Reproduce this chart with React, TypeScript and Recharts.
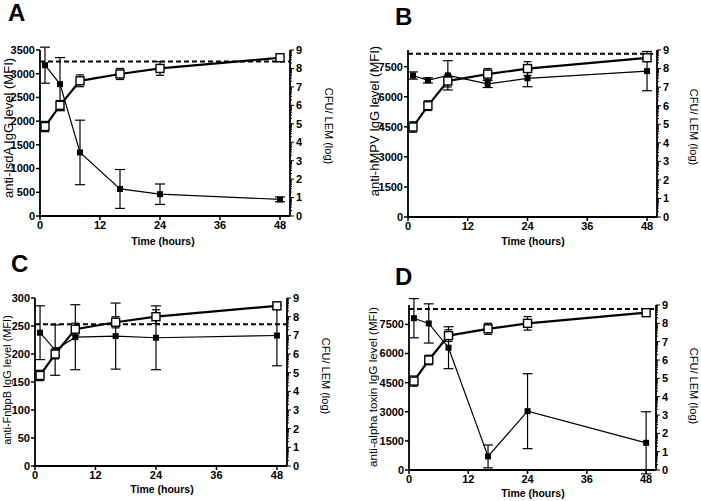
import React from "react";
import {
  ComposedChart,
  Line,
  XAxis,
  YAxis,
  ErrorBar,
  ReferenceLine,
} from "recharts";

// sampling times (hours)
const times = [1, 4, 8, 16, 24, 48];

// bacterial load, same in every panel (right axis, open squares)
const cfuMean = [4.85, 6.0, 7.33, 7.7, 8.0, 8.58];
const cfuErr = [0.28, 0.26, 0.32, 0.3, 0.37, 0.12];

// IgG levels (left axis, filled squares)
const isdaMean = [3180, 2780, 1340, 570, 460, 350];
const isdaErr = [380, 560, 680, 410, 215, 50];
const hmpvMean = [7060, 6820, 7070, 6640, 6920, 7280];
const hmpvErr = [180, 130, 730, 180, 420, 980];
const fnbpbMean = [238, 207, 230, 232, 229, 233];
const fnbpbErr = [48, 45, 58, 59, 57, 54];
const hlaMean = [7820, 7550, 6300, 700, 3030, 1400];
const hlaErr = [1010, 1010, 1080, 590, 1930, 1600];

// dashed baseline per panel (left axis)
const baselines = [3260, 8150, 253, 8300];

const xTicks = [0, 12, 24, 36, 48];
const isdaTicks = [0, 500, 1000, 1500, 2000, 2500, 3000, 3500];
const mpvTicks = [0, 1500, 3000, 4500, 6000, 7500];
const fnbTicks = [0, 50, 100, 150, 200, 250, 300];
const cfuMajor = [0, 1, 2, 3, 4, 5, 6, 7, 8];
const logMinor = [2, 3, 4, 5, 6, 7, 8, 9];

const cfuTicks: number[] = [];
cfuMajor.forEach((m) => {
  cfuTicks.push(m);
  logMinor.forEach((k) => cfuTicks.push(m + Math.log10(k)));
});
cfuTicks.push(9);

const FONT = '"Liberation Sans", Arial, sans-serif';

function FilledSquare(props: any) {
  const { cx, cy, index } = props;
  if (cx == null || cy == null) return null;
  return <rect key={`f${index}`} x={cx - 3} y={cy - 3} width={6} height={6} fill="#000" />;
}

function OpenSquare(props: any) {
  const { cx, cy, index } = props;
  if (cx == null || cy == null) return null;
  return (
    <rect
      key={`o${index}`}
      x={cx - 4}
      y={cy - 4}
      width={8}
      height={8}
      fill="#fff"
      stroke="#000"
      strokeWidth={1.4}
    />
  );
}

function CfuTick(props: any) {
  const { x, y, payload } = props;
  const v = payload.value;
  const major = Math.abs(v - Math.round(v)) < 1e-6;
  return (
    <g>
      <line x1={x} x2={x + (major ? 4 : 2)} y1={y} y2={y} stroke="#000" strokeWidth={1} />
      {major && (
        <text
          x={x + 6}
          y={y}
          dy="0.35em"
          fontSize={11}
          fontWeight="bold"
          fontFamily={FONT}
          fill="#000"
        >
          {Math.round(v)}
        </text>
      )}
    </g>
  );
}

interface PanelProps {
  px: number;
  py: number;
  pw: number;
  ph: number;
  mean: number[];
  err: number[];
  leftMax: number;
  leftTicks: number[];
  baseline: number;
}

const axisLine = { stroke: "#000", strokeWidth: 1.8 };
const tickStyle = { fontSize: 11, fill: "#000", fontFamily: FONT, fontWeight: "bold" as const };

function Panel({ px, py, pw, ph, mean, err, leftMax, leftTicks, baseline }: PanelProps) {
  const data = times.map((t, i) => ({
    t,
    igg: mean[i],
    iggErr: err[i],
    cfu: cfuMean[i],
    cfuErr: cfuErr[i],
  }));
  const lw = 45;
  const rw = 35;
  const top = 10;
  const xh = 22;
  return (
    <div style={{ position: "absolute", left: px - lw, top: py - top }}>
      <ComposedChart
        width={pw + lw + rw}
        height={ph + top + xh}
        data={data}
        margin={{ top, right: 0, bottom: 0, left: 0 }}
      >
        <XAxis
          dataKey="t"
          type="number"
          domain={[0, 50]}
          ticks={xTicks}
          height={xh}
          axisLine={axisLine}
          tickLine={{ stroke: "#000", strokeWidth: 1.5 }}
          tickSize={4}
          tickMargin={1}
          tick={tickStyle}
          allowDataOverflow
        />
        <YAxis
          yAxisId="left"
          orientation="left"
          width={lw}
          domain={[0, leftMax]}
          ticks={leftTicks}
          axisLine={axisLine}
          tickLine={{ stroke: "#000", strokeWidth: 1.5 }}
          tickSize={4}
          tickMargin={1}
          tick={tickStyle}
          allowDataOverflow
        />
        <YAxis
          yAxisId="right"
          orientation="right"
          width={rw}
          domain={[0, 9]}
          ticks={cfuTicks}
          interval={0}
          axisLine={axisLine}
          tickLine={false}
          tickSize={0}
          tickMargin={0}
          tick={<CfuTick />}
          allowDataOverflow
        />
        <ReferenceLine
          yAxisId="left"
          y={baseline}
          stroke="#000"
          strokeWidth={2}
          strokeDasharray="5 3"
        />
        <Line
          yAxisId="left"
          dataKey="igg"
          stroke="#000"
          strokeWidth={1.2}
          dot={FilledSquare}
          activeDot={false}
          isAnimationActive={false}
        >
          <ErrorBar dataKey="iggErr" width={5} stroke="#000" strokeWidth={1.2} direction="y" />
        </Line>
        <Line
          yAxisId="right"
          dataKey="cfu"
          stroke="#000"
          strokeWidth={2.2}
          dot={OpenSquare}
          activeDot={false}
          isAnimationActive={false}
        >
          <ErrorBar dataKey="cfuErr" width={4} stroke="#000" strokeWidth={1.2} direction="y" />
        </Line>
      </ComposedChart>
    </div>
  );
}

function Letter({ x, y, ch }: { x: number; y: number; ch: string }) {
  return (
    <div
      style={{
        position: "absolute",
        left: x,
        top: y,
        fontFamily: FONT,
        fontWeight: "bold",
        fontSize: 24,
        lineHeight: 1,
      }}
    >
      {ch}
    </div>
  );
}

function Title({
  cx,
  cy,
  text,
  size,
  rot,
  bold,
}: {
  cx: number;
  cy: number;
  text: string;
  size: number;
  rot: number;
  bold?: boolean;
}) {
  return (
    <div
      style={{
        position: "absolute",
        left: cx,
        top: cy,
        transform: `translate(-50%, -50%) rotate(${rot}deg)`,
        whiteSpace: "nowrap",
        fontFamily: FONT,
        fontSize: size,
        fontWeight: bold ? "bold" : "normal",
        lineHeight: 1,
        color: "#000",
      }}
    >
      {text}
    </div>
  );
}

export default function App() {
  return (
    <div
      style={{
        position: "absolute",
        left: 0,
        top: 0,
        width: 701,
        height: 501,
        background: "#fff",
        overflow: "hidden",
      }}
    >
      <Letter x={8} y={1} ch="A" />
      <Letter x={395} y={5} ch="B" />
      <Letter x={11} y={252} ch="C" />
      <Letter x={395} y={265} ch="D" />

      <Panel px={40} py={50} pw={250} ph={166} mean={isdaMean} err={isdaErr} leftMax={3500} leftTicks={isdaTicks} baseline={baselines[0]} />
      <Panel px={408} py={50} pw={249} ph={167} mean={hmpvMean} err={hmpvErr} leftMax={8333} leftTicks={mpvTicks} baseline={baselines[1]} />
      <Panel px={35} py={298} pw={252} ph={168} mean={fnbpbMean} err={fnbpbErr} leftMax={300} leftTicks={fnbTicks} baseline={baselines[2]} />
      <Panel px={409} py={305} pw={247} ph={165} mean={hlaMean} err={hlaErr} leftMax={8500} leftTicks={mpvTicks} baseline={baselines[3]} />

      <Title cx={8} cy={128} text="anti-IsdA IgG level (MFI)" size={13} rot={-90} />
      <Title cx={374} cy={121} text="anti-hMPV IgG level (MFI)" size={13} rot={-90} />
      <Title cx={7} cy={380} text="anti-FnbpB IgG level (MFI)" size={11} rot={-90} />
      <Title cx={373} cy={387} text="anti-alpha toxin IgG level (MFI)" size={11.7} rot={-90} />

      <Title cx={328} cy={126} text="CFU/ LEM (log)" size={11} rot={90} />
      <Title cx={693} cy={127} text="CFU/ LEM (log)" size={11} rot={90} />
      <Title cx={325} cy={376} text="CFU/ LEM (log)" size={11} rot={90} />
      <Title cx={693} cy={386} text="CFU/ LEM (log)" size={11} rot={90} />

      <Title cx={163} cy={241} text="Time (hours)" size={10.5} rot={0} bold />
      <Title cx={533} cy={241} text="Time (hours)" size={10.5} rot={0} bold />
      <Title cx={162} cy={489} text="Time (hours)" size={10.5} rot={0} bold />
      <Title cx={533} cy={493} text="Time (hours)" size={10.5} rot={0} bold />
    </div>
  );
}
